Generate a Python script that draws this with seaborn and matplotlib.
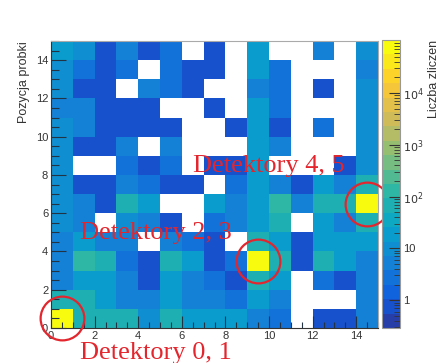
import numpy as np
import pandas as pd
import matplotlib
matplotlib.use("Agg")
import matplotlib.pyplot as plt
import seaborn as sns
from matplotlib.colors import LinearSegmentedColormap, ListedColormap, LogNorm
from matplotlib.ticker import LogLocator, MultipleLocator

plt.rcParams["font.family"] = ["Liberation Sans", "DejaVu Sans"]

# bin positions (detector position = x, sample position = y)
pos_x = list(range(15))
pos_y = list(range(15))

# counts per bin, top row first (y = 14 ... 0); 0 means an empty bin
counts_rows = [
    [20, 11, 1, 5, 1, 2, 0, 1, 0, 15, 0, 0, 5, 0, 12],       # y=14
    [11, 2, 1, 2, 0, 2, 1, 1, 0, 15, 3, 0, 0, 0, 6],         # y=13
    [11, 1, 1, 0, 5, 2, 1, 0, 0, 5, 2, 0, 1, 0, 12],         # y=12
    [5, 6, 1, 1, 1, 0, 0, 1, 0, 15, 3, 0, 0, 0, 12],         # y=11
    [12, 6, 1, 1, 1, 1, 0, 0, 1, 15, 1, 0, 2, 0, 12],        # y=10
    [12, 1, 1, 4, 0, 4, 0, 0, 0, 20, 5, 0, 0, 0, 12],        # y=9
    [12, 0, 0, 2, 1, 2, 0, 1, 1, 15, 0, 0, 0, 1, 12],        # y=8
    [12, 1, 1, 6, 2, 1, 1, 0, 2, 15, 5, 1, 18, 4, 60],       # y=7
    [12, 4, 1, 70, 20, 0, 0, 18, 6, 15, 100, 4, 60, 60, 7e4],  # y=6
    [12, 6, 0, 12, 5, 1, 0, 2, 6, 15, 60, 0, 18, 5, 60],     # y=5
    [6, 18, 5, 5, 0, 5, 2, 1, 0, 60, 18, 1, 18, 18, 18],     # y=4
    [6, 100, 60, 3, 1, 60, 18, 1, 2, 7e4, 60, 1, 60, 18, 6],  # y=3
    [6, 18, 18, 5, 1, 18, 5, 2, 1, 60, 18, 0, 2, 1, 6],      # y=2
    [60, 60, 18, 5, 6, 18, 5, 5, 2, 18, 5, 0, 0, 0, 6],      # y=1
    [7e4, 60, 60, 60, 12, 60, 18, 18, 18, 6, 2, 0, 1, 1, 6],  # y=0
]

detector_labels = ["Detektory 0, 1", "Detektory 2, 3", "Detektory 4, 5"]
# where each label sits (data coords, left / baseline)
label_pos = [(1.33, -1.6), (1.33, 4.65), (6.5, 8.15)]

cb_ticks = [1, 10, 100, 1e3, 1e4]
cb_ticklabels = ["1", "10", "$10^{2}$", "$10^{3}$", "$10^{4}$"]

# ROOT kBird palette, 20 contour levels
stops = [0.0, 0.125, 0.25, 0.375, 0.5, 0.625, 0.75, 0.875, 1.0]
red = [0.2082, 0.0592, 0.0780, 0.0232, 0.1802, 0.5301, 0.8186, 0.9956, 0.9764]
green = [0.1664, 0.3599, 0.5041, 0.6419, 0.7178, 0.7492, 0.7328, 0.7862, 0.9832]
blue = [0.5293, 0.8684, 0.8385, 0.7914, 0.6425, 0.4662, 0.3499, 0.1968, 0.0539]
bird = LinearSegmentedColormap.from_list("bird", list(zip(stops, zip(red, green, blue))))
ncont = 20
cmap = ListedColormap([bird((i + 0.99) / ncont) for i in range(ncont)])

df = pd.DataFrame(counts_rows[::-1], index=pos_y, columns=pos_x).replace(0, np.nan)

fig = plt.figure(figsize=(4.47, 3.63), dpi=100)
ax = fig.add_axes([51 / 447, 35 / 363, 327 / 447, 287 / 363])
cax = fig.add_axes([382 / 447, 35 / 363, 18 / 447, 288 / 363])

sns.heatmap(df, ax=ax, cbar_ax=cax, cmap=cmap, norm=LogNorm(vmin=0.29, vmax=1.05e5),
            xticklabels=False, yticklabels=False, linewidths=0)
ax.set_xlim(0, 15)
ax.set_ylim(0, 15)

for side in ["left", "bottom", "top", "right"]:
    ax.spines[side].set_visible(True)
    ax.spines[side].set_linewidth(0.8)
    ax.spines[side].set_color("#333333" if side in ("left", "bottom") else "#aaaaaa")

ax.set_xticks(range(0, 15, 2))
ax.set_xticklabels([str(v) for v in range(0, 15, 2)])
ax.set_yticks(range(0, 15, 2))
ax.set_yticklabels([str(v) for v in range(0, 15, 2)], rotation=0)
ax.xaxis.set_minor_locator(MultipleLocator(0.5))
ax.yaxis.set_minor_locator(MultipleLocator(0.5))
ax.tick_params(axis="x", which="major", direction="in", length=9, width=0.8, pad=2,
               labelsize=8, color="#223344", labelcolor="#333333")
ax.tick_params(axis="x", which="minor", direction="in", length=4.5, width=0.8, color="#223344")
ax.tick_params(axis="y", which="major", direction="in", length=11, width=0.8, pad=2,
               labelsize=8, color="#223344", labelcolor="#333333")
ax.tick_params(axis="y", which="minor", direction="in", length=6, width=0.8, color="#223344")
ax.set_xlabel("")
ax.set_ylabel("Pozycja probki", fontsize=9, loc="top", labelpad=4, color="#333333")

cb = ax.collections[0].colorbar
cb.outline.set_linewidth(0.8)
cb.outline.set_edgecolor("#999999")
cb.set_ticks(cb_ticks, labels=cb_ticklabels)
cb.minorlocator = LogLocator(base=10, subs=np.arange(2, 10))
cax.tick_params(which="major", direction="in", length=8, width=0.8, pad=2,
                labelsize=8, color="#333333", labelcolor="#333333")
cax.tick_params(which="minor", direction="in", length=4, width=0.6, color="#333333")
cb.set_label("Liczba zliczen", fontsize=9, loc="top", labelpad=3, color="#333333")

# red circles around the hot bins (detector pairs)
hot_y, hot_x = np.where(df.fillna(0).values > 1e4)
order = np.argsort(hot_x)
ax.plot(hot_x[order] + 0.5, hot_y[order] + 0.5, "o", ms=31.5, mfc="none",
        mec="#e3262e", mew=1.6, clip_on=False, zorder=5)

for text, (tx, ty) in zip(detector_labels, label_pos):
    ax.text(tx, ty, text, fontsize=19, color="#e3262e", va="baseline", ha="left",
            family=["Liberation Serif", "DejaVu Serif"], clip_on=False, zorder=6)

fig.savefig("out.png", dpi=100)
